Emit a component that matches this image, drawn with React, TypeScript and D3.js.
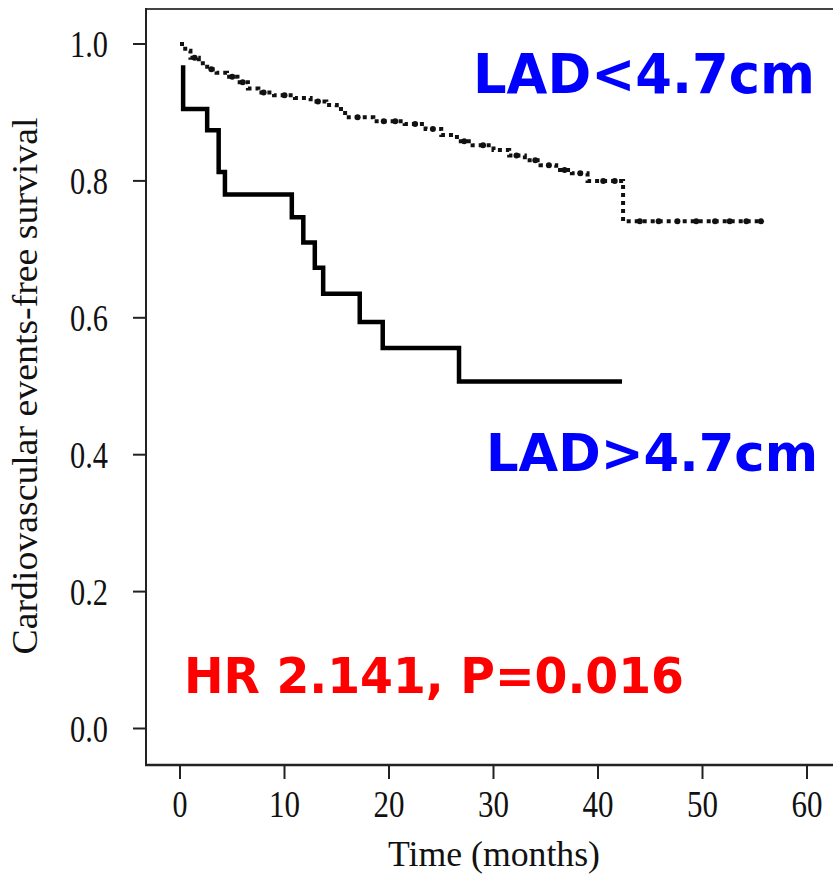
import React from "react";
import * as d3 from "d3";

// Kaplan–Meier curve for LAD > 4.7 cm (solid): step times (months) and survival after each step
const highTimes = [0.3, 0.3, 2.6, 3.7, 4.3, 10.7, 11.8, 12.9, 13.7, 17.2, 19.4, 26.7, 42.3];
const highSurv = [0.969, 0.905, 0.874, 0.813, 0.78, 0.747, 0.71, 0.673, 0.635, 0.594, 0.556, 0.507, 0.507];

// Kaplan–Meier curve for LAD < 4.7 cm (dotted)
const lowTimes = [
  0, 0.5, 1.0, 1.8, 2.6, 3.5, 4.5, 5.5, 6.5, 7.5, 9.0, 11.0, 12.5, 14.0, 15.0, 15.8, 18.5, 21.5,
  23.5, 25.0, 26.5, 28.0, 30.0, 31.5, 33.0, 34.5, 36.0, 37.5, 39.0, 42.4, 55.6,
];
const lowSurv = [
  1.0, 0.99, 0.98, 0.972, 0.963, 0.958, 0.952, 0.944, 0.935, 0.929, 0.925, 0.921, 0.916, 0.911,
  0.905, 0.893, 0.887, 0.883, 0.876, 0.867, 0.858, 0.852, 0.845, 0.837, 0.83, 0.823, 0.816, 0.811,
  0.8, 0.741, 0.741,
];

// Censored observations on the dotted curve
const lowCensor = [
  1.4, 3.0, 5.0, 6.0, 8.0, 10.0, 13.2, 17.0, 19.5, 20.6, 22.5, 24.2, 27.2, 29.0, 32.2, 34.0,
  35.3, 36.8, 38.3, 40.5, 41.6, 44.0, 45.8, 47.6, 49.4, 51.2, 52.6, 54.2, 55.6,
];

const xTicks = [0, 10, 20, 30, 40, 50, 60];
const yTicks = [0.0, 0.2, 0.4, 0.6, 0.8, 1.0];

const W = 833;
const H = 877;

export default function App() {
  const x = d3.scaleLinear().domain([0, 60]).range([180, 807]);
  const y = d3.scaleLinear().domain([0, 1]).range([728.5, 44]);

  const line = d3
    .line<[number, number]>()
    .x((d) => x(d[0]))
    .y((d) => y(d[1]))
    .curve(d3.curveStepAfter);

  const highPts: [number, number][] = highTimes.map((t, i) => [t, highSurv[i]]);
  const lowPts: [number, number][] = lowTimes.map((t, i) => [t, lowSurv[i]]);

  const survAt = (t: number) => {
    let s = lowSurv[0];
    for (let i = 0; i < lowTimes.length; i++) if (lowTimes[i] <= t) s = lowSurv[i];
    return s;
  };

  const serif = "'Liberation Serif', 'Times New Roman', serif";
  const sans = "'DejaVu Sans', Verdana, sans-serif";
  const axisColor = "#222";

  return (
    <svg
      width={W}
      height={H}
      style={{ position: "absolute", left: 0, top: 0, background: "#fff" }}
    >
      <rect width={W} height={H} fill="#fff" />

      {/* frame */}
      <line x1={146} y1={9} x2={W} y2={9} stroke="#444" strokeWidth={2} />
      <line x1={146} y1={8} x2={146} y2={766} stroke={axisColor} strokeWidth={2} />
      <line x1={145} y1={765} x2={W} y2={765} stroke={axisColor} strokeWidth={2.5} />

      {/* y axis */}
      {yTicks.map((v) => (
        <g key={"y" + v}>
          <line x1={133} x2={146} y1={y(v)} y2={y(v)} stroke={axisColor} strokeWidth={2} />
          <text
            x={108}
            y={y(v) + 13}
            textAnchor="end"
            fontFamily={serif}
            fontSize={37}
            textLength={38}
            lengthAdjust="spacingAndGlyphs"
            fill="#111"
          >
            {v.toFixed(1)}
          </text>
        </g>
      ))}
      <text
        transform={`translate(37, 386) rotate(-90)`}
        textAnchor="middle"
        fontFamily={serif}
        fontSize={35}
        textLength={537}
        lengthAdjust="spacingAndGlyphs"
        fill="#111"
      >
        Cardiovascular events-free survival
      </text>

      {/* x axis */}
      {xTicks.map((t) => (
        <g key={"x" + t}>
          <line x1={x(t)} x2={x(t)} y1={765} y2={779} stroke={axisColor} strokeWidth={2} />
          <text
            x={x(t)}
            y={817}
            textAnchor="middle"
            fontFamily={serif}
            fontSize={37}
            textLength={t === 0 ? 15 : 31}
            lengthAdjust="spacingAndGlyphs"
            fill="#111"
          >
            {t}
          </text>
        </g>
      ))}
      <text
        x={494}
        y={866}
        textAnchor="middle"
        fontFamily={serif}
        fontSize={35}
        textLength={212}
        lengthAdjust="spacingAndGlyphs"
        fill="#111"
      >
        Time (months)
      </text>

      {/* curves */}
      <path
        d={line(lowPts) || ""}
        fill="none"
        stroke="#111"
        strokeWidth={4}
        strokeDasharray="4 4"
      />
      {lowCensor.map((t, i) => (
        <circle key={"c" + i} cx={x(t)} cy={y(survAt(t))} r={3} fill="#111" />
      ))}
      <path
        d={line(highPts) || ""}
        fill="none"
        stroke="#000"
        strokeWidth={4.5}
        strokeLinejoin="miter"
      />

      {/* annotations */}
      <text
        x={473}
        y={93}
        fontFamily={sans}
        fontWeight="bold"
        fontSize={55}
        textLength={342}
        lengthAdjust="spacingAndGlyphs"
        fill="#0000ff"
      >
        LAD&lt;4.7cm
      </text>
      <text
        x={486}
        y={471}
        fontFamily={sans}
        fontWeight="bold"
        fontSize={52}
        textLength={332}
        lengthAdjust="spacingAndGlyphs"
        fill="#0000ff"
      >
        LAD&gt;4.7cm
      </text>
      <text
        x={184}
        y={693}
        fontFamily={sans}
        fontWeight="bold"
        fontSize={49}
        textLength={500}
        lengthAdjust="spacingAndGlyphs"
        fill="#ff0000"
      >
        HR 2.141, P=0.016
      </text>
    </svg>
  );
}
